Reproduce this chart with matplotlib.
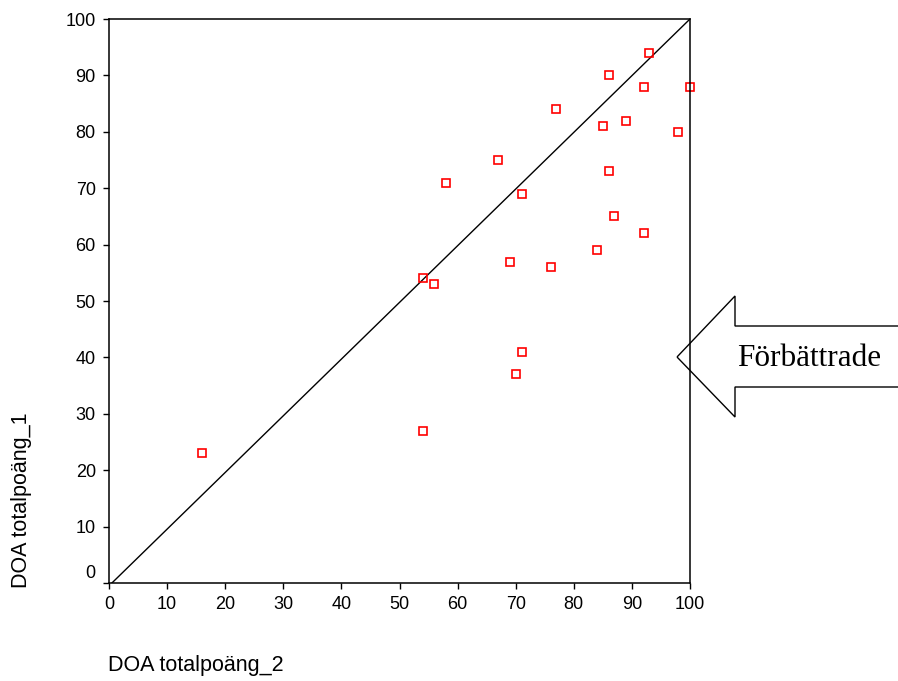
import matplotlib
matplotlib.use('Agg')
import matplotlib.pyplot as plt
import matplotlib.transforms as mtransforms
from matplotlib.patches import Polygon

# DOA totalpoäng_2 (x) vs DOA totalpoäng_1 (y)
doa_2 = [16, 54, 56, 54, 58, 67, 71, 69, 71, 70, 76, 77, 84, 85, 86, 86, 87, 89, 92, 92, 93, 98, 100]
doa_1 = [23, 54, 53, 27, 71, 75, 69, 57, 41, 37, 56, 84, 59, 81, 90, 73, 65, 82, 88, 62, 94, 80, 88]
ticks = [0, 10, 20, 30, 40, 50, 60, 70, 80, 90, 100]

W, H = 898, 681
fig = plt.figure(figsize=(W / 100, H / 100), dpi=100)
ax = fig.add_axes([109 / W, 1 - 583 / H, (690 - 109) / W, (583 - 19) / H])

# reference line
ax.plot([0.5, 100], [0, 100], color='black', lw=1.0)
ax.plot(doa_2, doa_1, linestyle='none', marker='s', markersize=6.3,
        markerfacecolor='none', markeredgecolor='red', markeredgewidth=1.2,
        clip_on=False)

ax.set_xlim(0, 100)
ax.set_ylim(0, 100)
ax.set_xticks(ticks)
ax.set_yticks(ticks)
ax.tick_params(direction='out', length=4.5, width=1.0, pad=5,
               labelsize=13, labelfontfamily='Liberation Sans')
for s in ax.spines.values():
    s.set_linewidth(1.1)

# SPSS puts the "0" on the y axis a little above the corner
lab0 = ax.get_yticklabels()[0]
lab0.set_transform(lab0.get_transform() +
                   mtransforms.ScaledTranslation(0, 11 / 100, fig.dpi_scale_trans))

fig.text(108 / W, 1 - 666 / H, 'DOA totalpoäng_2', fontsize=15.5,
         family='Liberation Sans', ha='left', va='center')
fig.text(21 / W, 1 - 588 / H, 'DOA totalpoäng_1', fontsize=15.5,
         family='Liberation Sans', rotation=90, rotation_mode='anchor',
         ha='left', va='center')

# arrow pointing at the improved side
pts = [(677, 357), (735, 296), (735, 326), (905, 326),
       (905, 387), (735, 387), (735, 417)]
arrow = Polygon([(px / W, 1 - py / H) for px, py in pts], closed=True,
                fill=False, edgecolor='black', lw=1.0,
                transform=fig.transFigure)
fig.add_artist(arrow)
fig.text(737 / W, 1 - 358 / H, 'Förbättrade', fontsize=22.5,
         family='Liberation Serif', ha='left', va='center')

fig.savefig('out.png', dpi=100)
